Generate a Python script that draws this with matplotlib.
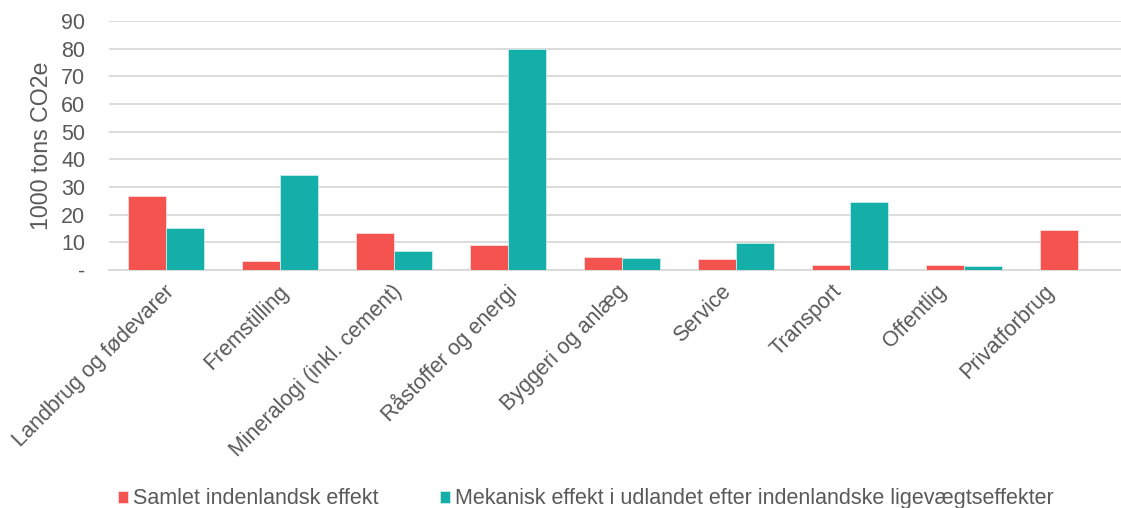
import matplotlib
matplotlib.use("Agg")
import matplotlib.pyplot as plt
import matplotlib.transforms as mtransforms
import numpy as np

plt.rcParams['font.family'] = ['Liberation Sans', 'DejaVu Sans']

categories = ["Landbrug og fødevarer", "Fremstilling", "Mineralogi (inkl. cement)",
              "Råstoffer og energi", "Byggeri og anlæg", "Service", "Transport",
              "Offentlig", "Privatforbrug"]
samlet = [26.6, 3.4, 13.3, 9.1, 4.6, 3.9, 1.7, 1.7, 14.3]
mekanisk = [15.0, 34.3, 6.7, 79.8, 4.4, 9.6, 24.4, 1.3, 0.0]
yticks = [0, 10, 20, 30, 40, 50, 60, 70, 80, 90]
ytick_labels = ["-", "10", "20", "30", "40", "50", "60", "70", "80", "90"]
series_names = ["Samlet indenlandsk effekt",
                "Mekanisk effekt i udlandet efter indenlandske ligevægtseffekter"]

# horizontal nudge (pixels) for each slanted category label
label_nudge_px = [-2, -2, -2, -2, -5, -15, -19, -28, -34]

red = "#F55350"
teal = "#15AFA9"
grey_text = "#595959"
grid_col = "#D9D9D9"
fs = 15.5

fig = plt.figure(figsize=(11.21, 5.08), dpi=100)
ax = fig.add_axes([0.0972, 0.4685, 0.915, 0.4905])

x = np.arange(len(categories))
w = 1 / 3
ax.bar(x - w / 2, samlet, width=w, color=red, edgecolor="#FBDCDC", linewidth=0.6,
       label=series_names[0], zorder=3)
ax.bar(x + w / 2, mekanisk, width=w, color=teal, edgecolor="#C8ECEA", linewidth=0.6,
       label=series_names[1], zorder=3)

ax.set_xlim(-0.5, len(categories) - 0.5)
ax.set_ylim(0, 90)
ax.set_yticks(yticks)
ax.set_yticklabels(ytick_labels)
ax.yaxis.grid(True, color=grid_col, linewidth=1.3, zorder=0)
ax.set_axisbelow(True)
for side in ["top", "right", "left"]:
    ax.spines[side].set_visible(False)
ax.spines["bottom"].set_color(grid_col)
ax.spines["bottom"].set_linewidth(1.3)
ax.tick_params(axis="both", length=0, labelsize=fs, labelcolor=grey_text)
ax.tick_params(axis="y", pad=17)

ax.set_xticks(x)
ax.set_xticklabels(categories, rotation=45, ha="right", va="top",
                   rotation_mode="anchor")
ax.tick_params(axis="x", pad=8)
for lbl, dx in zip(ax.get_xticklabels(), label_nudge_px):
    shift = mtransforms.ScaledTranslation(dx / fig.dpi, 0, fig.dpi_scale_trans)
    lbl.set_transform(lbl.get_transform() + shift)

ax.set_ylabel("1000 tons CO2e", fontsize=16.7, color=grey_text, labelpad=6)

fig.legend(loc="center left", bbox_to_anchor=(0.105, 0.018), ncol=2, frameon=False,
           fontsize=fs, labelcolor=grey_text, handlelength=0.5, handleheight=0.5,
           handletextpad=0.2, columnspacing=2.85, borderaxespad=0, borderpad=0)

fig.savefig("out.png", dpi=100)
